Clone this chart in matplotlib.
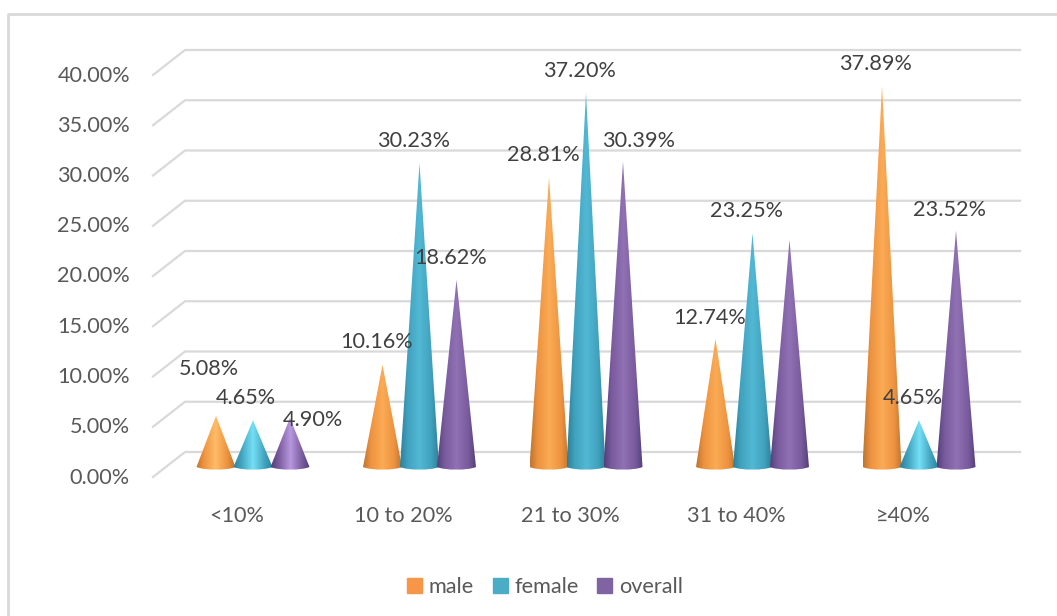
import numpy as np
from matplotlib import pyplot as plt
from matplotlib.colors import LinearSegmentedColormap
from matplotlib.patches import Patch, PathPatch
from matplotlib.path import Path

plt.rcParams['font.family'] = ['Lato', 'DejaVu Sans']

categories = ['<10%', '10 to 20%', '21 to 30%', '31 to 40%', '≥40%']
male = [5.08, 10.16, 28.81, 12.74, 37.89]
female = [4.65, 30.23, 37.20, 23.25, 4.65]
overall = [4.90, 18.62, 30.39, 22.6, 23.52]
yticks = [0, 5, 10, 15, 20, 25, 30, 35, 40]

# label offsets from the cone tip in pixels
male_off = [(-7, 47), (-6, 23), (-6, 22), (-6, 21), (-6, 22)]
female_off = [(-7, 22), (-6, 22), (-6, 22), (-6, 22), (-6, 22)]
overall_off = [(23, -2), (-6, 22), (16, 21), None, (-6, 21)]

W, H = 1057, 616
px_x = 166.5   # pixels per category
px_y = 10.05   # pixels per percent
x0 = 253
y0 = 467
fs = 15.6


def dx(p):
    return p / px_x


def dy(p):
    return p / px_y


fig = plt.figure(figsize=(W / 100, H / 100), dpi=100)
ax = fig.add_axes([0, 0, 1, 1])
xlim = (-x0 / px_x, (W - x0) / px_x)
ylim = (-(H - y0) / px_y, y0 / px_y)
ax.axis('off')

# outer frame only has top and left sides
ax.plot([xlim[1], dx(8.5 - x0), dx(8.5 - x0)],
        [dy(y0 - 14), dy(y0 - 14), ylim[0]], color='#d9d9d9', lw=2, zorder=1)

# floor and back wall gridlines
for v in yticks:
    ax.plot([dx(153 - x0), dx(185 - x0), dx(1020 - x0)],
            [v - dy(10), v + dy(15), v + dy(15)],
            color='#d9d9d9', lw=1.6, zorder=1, solid_joinstyle='miter')
    ax.text(dx(130 - x0), v - dy(10.5), '%.2f%%' % v, ha='right', va='center',
            fontsize=fs, color='#595959')

for i, c in enumerate(categories):
    ax.text(i - dx(16), dy(y0 - 516), c, ha='center', va='center',
            fontsize=fs, color='#595959')

# edge, body, highlight colours: tall cones, then the brighter small ones
series = [
    (male, male_off, -37, ('#bd7530', '#ee9340', '#fbab55'), '#ffbc68'),
    (female, female_off, 0, ('#2c8099', '#41a2be', '#52b8d4'), '#74e0f6'),
    (overall, overall_off, 37, ('#53407a', '#7a5c9e', '#9072b4'), '#b898e0'),
]
half = 19.5
grad = np.linspace(0, 1, 128).reshape(1, -1)

for vals, offs, shift, cols, small_hi in series:
    for i, v in enumerate(vals):
        hi = small_hi if v < 6 else cols[2]
        cmap = LinearSegmentedColormap.from_list(
            'c', [(0, cols[0]), (0.2, cols[1]), (0.5, hi), (0.8, cols[1]), (1, cols[0])])
        xc = i + dx(shift)
        hw = dx(half)
        hb = dy(2.6)
        codes = [Path.MOVETO, Path.LINETO, Path.CURVE4, Path.CURVE4, Path.CURVE4,
                 Path.LINETO, Path.CLOSEPOLY]
        verts = [(xc, v), (xc + hw, 0),
                 (xc + hw * 0.6, -hb * 1.35), (xc - hw * 0.6, -hb * 1.35), (xc - hw, 0),
                 (xc, v), (xc, v)]
        patch = PathPatch(Path(verts, codes), fc='none', ec='none')
        ax.add_patch(patch)
        im = ax.imshow(grad, cmap=cmap, aspect='auto', zorder=3,
                       extent=[xc - hw, xc + hw, -hb * 1.4, v])
        im.set_clip_path(patch)
        if offs[i] is not None:
            ax.annotate('%.2f%%' % v, (xc, v), xytext=offs[i],
                        textcoords='offset pixels', ha='center', va='center',
                        fontsize=fs, color='#404040', zorder=5)

ax.set_xlim(xlim)
ax.set_ylim(ylim)

handles = [Patch(color='#f79646', label='male'),
           Patch(color='#4bacc6', label='female'),
           Patch(color='#8064a2', label='overall')]
ax.legend(handles=handles, ncol=3, loc='center', frameon=False,
          bbox_to_anchor=(545 / W, 1 - 587 / H), fontsize=fs,
          handlelength=0.7, handleheight=0.7, handletextpad=0.3,
          columnspacing=0.85, labelcolor='#595959')

fig.savefig('out.png', dpi=100)
